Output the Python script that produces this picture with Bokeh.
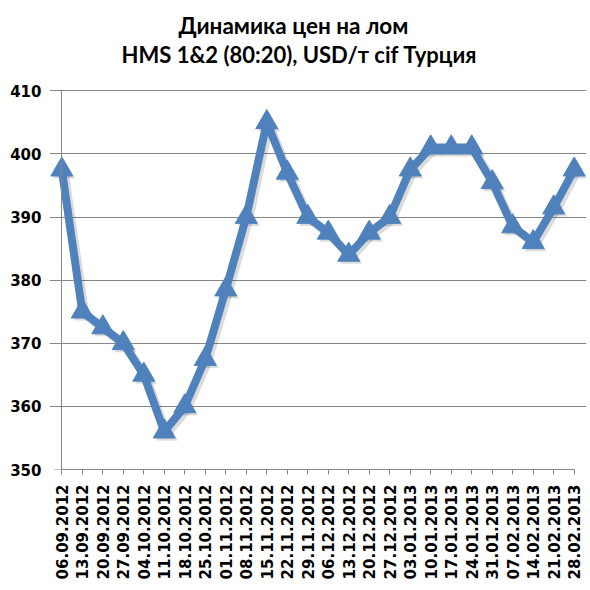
from bokeh.plotting import figure
from bokeh.models import Range1d, FixedTicker, ColumnDataSource, LinearAxis, Title
from bokeh.embed import file_html
from bokeh.resources import INLINE
import math

dates = ["06.09.2012", "13.09.2012", "20.09.2012", "27.09.2012", "04.10.2012",
         "11.10.2012", "18.10.2012", "25.10.2012", "01.11.2012", "08.11.2012",
         "15.11.2012", "22.11.2012", "29.11.2012", "06.12.2012", "13.12.2012",
         "20.12.2012", "27.12.2012", "03.01.2013", "10.01.2013", "17.01.2013",
         "24.01.2013", "31.01.2013", "07.02.2013", "14.02.2013", "21.02.2013",
         "28.02.2013"]
prices = [397.5, 375, 372.5, 370, 365, 356, 360, 367.5, 378.5, 390,
          405, 397, 390, 387.5, 384, 387.5, 390, 397.5, 401, 401,
          401, 395.5, 388.5, 386, 391.5, 397.5]
y_ticks = [350, 360, 370, 380, 390, 400, 410]
title_line1 = "Динамика цен на лом"
title_line2 = "HMS 1&2 (80:20), USD/т cif  Турция"

idx = list(range(len(dates)))
last = len(dates) - 1
src = ColumnDataSource(dict(x=idx, y=prices))

TFONT = "Lato"
AFONT = "DejaVu Sans"
BLUE = "#4F81BD"
GRID = "#868686"
PAD = 0.6

p = figure(width=590, height=590, output_backend="svg", toolbar_location=None,
           x_range=Range1d(-PAD, last + PAD), y_range=Range1d(350, 410.2),
           min_border_left=49, min_border_right=4, min_border_top=89,
           min_border_bottom=121)
p.extra_x_ranges = {"sh": Range1d(-PAD - 0.12, last + PAD - 0.12)}
p.extra_y_ranges = {"sh": Range1d(350.4, 410.6)}

p.outline_line_color = None
p.background_fill_color = "white"
p.border_fill_color = "white"

p.xgrid.grid_line_color = None
p.ygrid.grid_line_color = GRID
p.ygrid.grid_line_width = 1
p.ygrid.ticker = FixedTicker(ticks=y_ticks)
p.ygrid.bounds = (0, last)

# labels of the value axis (at the frame edge)
p.yaxis.ticker = FixedTicker(ticks=y_ticks)
p.yaxis.axis_line_color = None
p.yaxis.major_tick_line_color = None
p.yaxis.minor_tick_line_color = None
p.yaxis.major_label_standoff = 2
p.yaxis.major_label_text_font = AFONT
p.yaxis.major_label_text_font_style = "bold"
p.yaxis.major_label_text_font_size = "15px"
p.yaxis.major_label_text_color = "black"

# visible value-axis line and ticks at the first category
yline = LinearAxis(fixed_location=0, ticker=FixedTicker(ticks=y_ticks))
yline.axis_line_color = GRID
yline.major_tick_line_color = GRID
yline.major_tick_out = 7
yline.major_tick_in = 0
yline.minor_tick_line_color = None
yline.major_label_text_color = None
p.add_layout(yline, "left")

p.xaxis.bounds = (0, last)
p.xaxis.ticker = FixedTicker(ticks=idx)
p.xaxis.major_label_overrides = {i: d for i, d in zip(idx, dates)}
p.xaxis.major_label_orientation = math.pi / 2
p.xaxis.axis_line_color = GRID
p.xaxis.major_tick_line_color = GRID
p.xaxis.major_tick_out = 5
p.xaxis.major_tick_in = 0
p.xaxis.minor_tick_line_color = None
p.xaxis.major_label_standoff = 10
p.xaxis.major_label_text_font = AFONT
p.xaxis.major_label_text_font_style = "bold"
p.xaxis.major_label_text_font_size = "15px"
p.xaxis.major_label_text_color = "black"

# soft shadow (same data, shifted ranges)
p.line("x", "y", source=src, line_color="black", line_alpha=0.14, line_width=9,
       line_join="round", x_range_name="sh", y_range_name="sh")
p.scatter("x", "y", source=src, marker="triangle", size=22, fill_color="black",
          fill_alpha=0.14, line_color=None, x_range_name="sh", y_range_name="sh")

p.line("x", "y", source=src, line_color=BLUE, line_width=8, line_join="round")
p.scatter("x", "y", source=src, marker="triangle", size=22, fill_color=BLUE,
          line_color=BLUE, line_width=1)

# titles (spacer first, nearest to the plot)
p.add_layout(Title(text=" ", text_font_size="10px", standoff=9), "above")
p.add_layout(Title(text=title_line2, align="left", offset=72, text_font=TFONT,
                   text_font_style="bold", text_font_size="22px",
                   text_color="black", standoff=0), "above")
p.add_layout(Title(text=title_line1, align="left", offset=129, text_font=TFONT,
                   text_font_style="bold", text_font_size="22.5px",
                   text_color="black", standoff=0), "above")

open("out.html", "w").write(file_html(p, INLINE))
